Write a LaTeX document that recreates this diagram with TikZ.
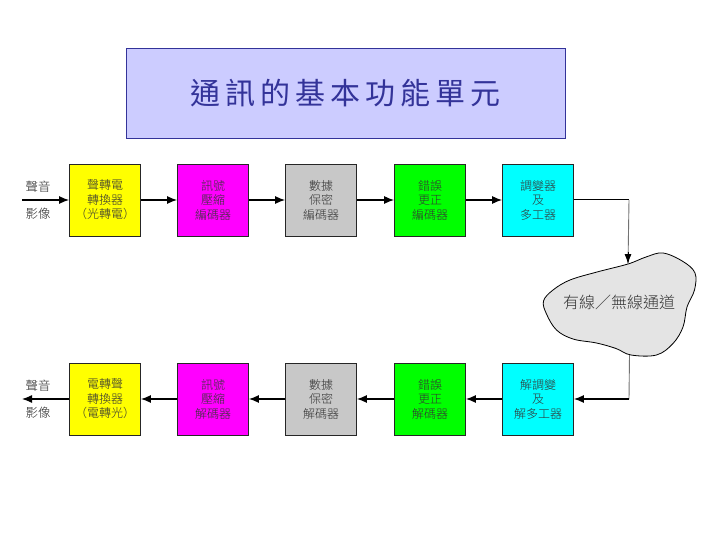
\documentclass[tikz,border=0pt]{standalone}
\usepackage{fontspec}
\newfontfamily\cjk{Noto Sans CJK TC}
\newfontfamily\cjklight{Noto Sans CJK TC Light}
\usetikzlibrary{arrows.meta}
\definecolor{titlefill}{HTML}{CCCCFF}
\definecolor{titledraw}{HTML}{333399}
\definecolor{titletext}{HTML}{333399}
\definecolor{cyellow}{HTML}{FFFF00}
\definecolor{cmagenta}{HTML}{FF00FF}
\definecolor{cgray}{HTML}{C8C8C8}
\definecolor{cgreen}{HTML}{00FF00}
\definecolor{ccyan}{HTML}{00FFFF}
\definecolor{cloudfill}{HTML}{E4E4E4}
\begin{document}
\begin{tikzpicture}[x=1pt,y=-1pt,
  blk/.style={draw=black!85, line width=0.8pt, minimum width=71pt, minimum height=72pt,
    inner sep=0pt, align=center, font=\cjklight\fontsize{12}{14.5}\selectfont, text=black!80},
  arr/.style={line width=1.2pt, -{Latex[length=10pt,width=8pt]}},
  lbl/.style={font=\cjklight\fontsize{12.5}{14}\selectfont, text=black!85, inner sep=0pt}]
\useasboundingbox (0,0) rectangle (720,540);
\fill[white] (0,0) rectangle (720,540);
% title
\node[draw=titledraw, fill=titlefill, line width=0.8pt, minimum width=439pt, minimum height=90pt,
  inner sep=0pt, text=titletext, font=\cjk\fontsize{30}{32}\selectfont] (title) at (345.5,93)
  {\raisebox{-4pt}{通\hspace{5pt}訊\hspace{5pt}的\hspace{5pt}基\hspace{5pt}本\hspace{5pt}功\hspace{5pt}能\hspace{5pt}單\hspace{5pt}元}};
% top row
\node[blk, fill=cyellow]  (t1) at (105,200) {聲轉電\\轉換器\\（光轉電）};
\node[blk, fill=cmagenta] (t2) at (213,200) {訊號\\壓縮\\編碼器};
\node[blk, fill=cgray]    (t3) at (321,200) {數據\\保密\\編碼器};
\node[blk, fill=cgreen]   (t4) at (430,200) {錯誤\\更正\\編碼器};
\node[blk, fill=ccyan]    (t5) at (538,200) {調變器\\及\\多工器};
% bottom row
\node[blk, fill=cyellow]  (b1) at (105,399) {電轉聲\\轉換器\\（電轉光）};
\node[blk, fill=cmagenta] (b2) at (213,399) {訊號\\壓縮\\解碼器};
\node[blk, fill=cgray]    (b3) at (321,399) {數據\\保密\\解碼器};
\node[blk, fill=cgreen]   (b4) at (430,399) {錯誤\\更正\\解碼器};
\node[blk, fill=ccyan]    (b5) at (538,399) {解調變\\及\\解多工器};
% side labels
\node[lbl] (ta) at (38,187) {聲音};
\node[lbl] (tb) at (38,214) {影像};
\node[lbl] (ba) at (38,386) {聲音};
\node[lbl] (bb) at (38,413) {影像};
% cloud
\draw[fill=cloudfill, draw=black, line width=0.8pt] plot[smooth cycle, tension=0.6] coordinates {
  (628,264) (597,272) (570,280) (553,290) (543.5,301) (546.5,314) (556.5,330) (573,339)
  (596.5,343) (616,348.5) (631,355) (656.5,355) (673,343.5) (683,327) (687,307)
  (694.5,290) (695,273) (683,261.5) (663,253) (646,257)};
\node[font=\cjklight\fontsize{16}{18}\selectfont, text=black!80, inner sep=0pt] (chan) at (619,302) {有線／無線通道};
\coordinate (cloudtop) at (628,264);
\coordinate (cloudbot) at (629.5,355);
\coordinate (in) at (22,200);
\coordinate (out) at (22,399);
\coordinate (c1) at (629,200);
\coordinate (c2) at (629,399);
% connectors top
\draw[arr] (in) -- (t1.west);
\draw[arr] (t1.east) -- (t2.west);
\draw[arr] (t2.east) -- (t3.west);
\draw[arr] (t3.east) -- (t4.west);
\draw[arr] (t4.east) -- (t5.west);
\draw[line width=1pt] (t5.east) -- (c1);
\draw[black!55, line width=0.9pt] (c1) -- (cloudtop);
\draw[-{Latex[length=10pt,width=7pt]}, line width=0.9pt, black] ([yshift=12pt]cloudtop) -- (cloudtop);
% connectors bottom
\draw[black!55, line width=0.9pt] (cloudbot) -- (c2);
\draw[arr] (c2) -- (b5.east);
\draw[arr] (b5.west) -- (b4.east);
\draw[arr] (b4.west) -- (b3.east);
\draw[arr] (b3.west) -- (b2.east);
\draw[arr] (b2.west) -- (b1.east);
\draw[arr] (b1.west) -- (out);
\end{tikzpicture}
\end{document}
